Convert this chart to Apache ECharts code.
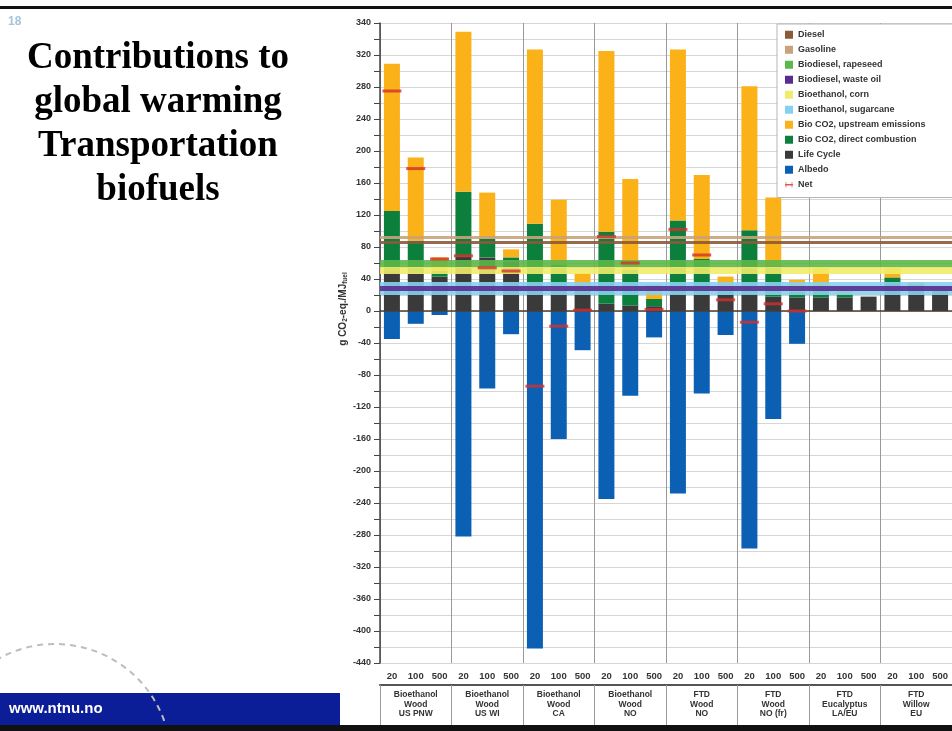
<!DOCTYPE html>
<html>
<head>
<meta charset="utf-8">
<script src="https://cdn.jsdelivr.net/npm/echarts@6/dist/echarts.min.js"></script>
<style>
  html, body { margin: 0; padding: 0; background: #fff; }
  #chart { width: 952px; height: 731px; }
</style>
</head>
<body>
<div id="chart"></div>
<script>
// feedstock / region groups and time horizons (years)
const groups = ['Bioethanol\nWood\nUS PNW', 'Bioethanol\nWood\nUS WI', 'Bioethanol\nWood\nCA', 'Bioethanol\nWood\nNO',
  'FTD\nWood\nNO', 'FTD\nWood\nNO (fr)', 'FTD\nEucalyptus\nLA/EU', 'FTD\nWillow\nEU'];
const horizons = ['20', '100', '500'];

// stacked contributions, g CO2-eq./MJ fuel (3 horizons per group)
const lifeCycle = [51, 47, 43, 68, 67, 62, 28, 28, 25, 9, 7, 6, 22, 20, 20, 22, 18, 17, 17, 17, 18, 34, 30, 25];
const directComb = [74, 41, 7, 81, 23, 5, 81, 30, 5, 90, 45, 9, 91, 45, 5, 79, 38, 7, 13, 4, 0, 8, 3, 0];
const upstream = [184, 104, 17, 200, 58, 10, 218, 81, 17, 226, 113, 18, 214, 105, 18, 180, 86, 15, 24, 4, 0, 13, 3, 0];
const albedo = [-35, -16, -5, -282, -97, -29, -422, -160, -49, -235, -106, -33, -228, -103, -30, -297, -135, -41,
  null, null, null, null, null, null];
const net = [275, 178, 65, 69, 54, 50, -94, -19, 1, 93, 60, 2, 102, 70, 14, -14, 9, 0,
  null, null, null, null, null, null];

// fossil / 1st generation reference levels
const refNames = ['Diesel', 'Gasoline', 'Biodiesel, rapeseed', 'Biodiesel, waste oil', 'Bioethanol, corn', 'Bioethanol, sugarcane'];
const refValues = [86, 92, 59.5, 28, 51, 28.5];

// y axis tick labels (as printed on the figure)
const yTickLabels = ['-440', '-400', '-360', '-320', '-280', '-240', '-200', '-160', '-120', '-80', '-40', '0',
  '40', '80', '120', '160', '200', '240', '280', '320', '340'];

const yMin = -440, yMax = 360;
const categories = [];
groups.forEach((g, gi) => horizons.forEach(h => categories.push(gi + '-' + h)));

const refColors = ['#8a5a3a', '#c9a27c', '#5cb84a', '#5b2c90', '#f2ec6c', '#86d1ee'];
const refWidths = [3, 3, 8, 5, 7, 13];

// draw order: wide bands first, thin on top
const refOrder = [5, 2, 4, 3, 1, 0];
const refSeries = refOrder.map(i => ({
  name: refNames[i],
  type: 'line',
  data: [],
  color: refColors[i],
  z: 3,
  markLine: {
    silent: true,
    symbol: 'none',
    label: { show: false },
    lineStyle: { color: refColors[i], width: refWidths[i], type: 'solid', opacity: 0.9 },
    data: [{ yAxis: refValues[i] }]
  }
}));

const chart = echarts.init(document.getElementById('chart'));
const font = 'Liberation Sans, Arial, sans-serif';

const option = {
  animation: false,
  textStyle: { fontFamily: font },
  grid: { left: 380, top: 23, width: 576, height: 640 },
  legend: {
    orient: 'vertical',
    left: 777,
    top: 24,
    padding: [6, 200, 8, 8],
    backgroundColor: '#fff',
    borderColor: '#b5b5b5',
    borderWidth: 1,
    itemWidth: 8,
    itemHeight: 8,
    itemGap: 5.5,
    textStyle: { fontSize: 9, fontWeight: 'bold', color: '#333', lineHeight: 9.5, fontFamily: font },
    data: [
      { name: 'Diesel', icon: 'rect' },
      { name: 'Gasoline', icon: 'rect' },
      { name: 'Biodiesel, rapeseed', icon: 'rect' },
      { name: 'Biodiesel, waste oil', icon: 'rect' },
      { name: 'Bioethanol, corn', icon: 'rect' },
      { name: 'Bioethanol, sugarcane', icon: 'rect' },
      { name: 'Bio CO2, upstream emissions', icon: 'rect' },
      { name: 'Bio CO2, direct combustion', icon: 'rect' },
      { name: 'Life Cycle', icon: 'rect' },
      { name: 'Albedo', icon: 'rect' },
      { name: 'Net', icon: 'path://M0,3H1V0H2V3H10V0H11V3H12V5H11V8H10V5H2V8H1V5H0Z' }
    ]
  },
  xAxis: [
    {
      type: 'category',
      data: categories,
      position: 'bottom',
      axisLine: { show: false },
      axisTick: {
        show: true,
        interval: (i) => i % 3 === 0 && i > 0,
        length: 22,
        lineStyle: { color: '#999' }
      },
      axisLabel: {
        interval: 0,
        margin: 8,
        fontSize: 9.5,
        fontWeight: 'bold',
        color: '#333',
        formatter: (v, i) => horizons[i % 3]
      },
      splitLine: { show: false }
    },
    {
      type: 'category',
      data: groups,
      position: 'bottom',
      offset: 22,
      axisLine: { show: true, lineStyle: { color: '#555', width: 2 } },
      axisTick: { show: true, length: 42, lineStyle: { color: '#999' } },
      axisLabel: {
        interval: 0,
        margin: 5,
        fontSize: 8.5,
        lineHeight: 9.5,
        fontWeight: 'bold',
        color: '#333'
      },
      splitLine: { show: true, lineStyle: { color: '#999', width: 1 } }
    }
  ],
  yAxis: {
    type: 'value',
    min: yMin,
    max: yMax,
    interval: 40,
    axisLine: { show: true, lineStyle: { color: '#444', width: 1.5 } },
    axisTick: { show: true, length: 6, lineStyle: { color: '#444' } },
    minorTick: { show: true, splitNumber: 2, length: 6, lineStyle: { color: '#444' } },
    axisLabel: {
      margin: 9,
      fontSize: 9,
      fontWeight: 'bold',
      color: '#333',
      formatter: (v) => yTickLabels[Math.round((v - yMin) / 40)]
    },
    splitLine: { show: true, lineStyle: { color: '#d6d6d6' } },
    minorSplitLine: { show: true, lineStyle: { color: '#d6d6d6' } }
  },
  series: [
    {
      name: 'Life Cycle', type: 'bar', stack: 'total', barWidth: 16,
      itemStyle: { color: '#3a3a3a' }, data: lifeCycle,
      markLine: {
        silent: true, symbol: 'none', label: { show: false }, z: 4,
        lineStyle: { color: '#4a3c34', width: 1.5, type: 'solid' },
        data: [{ yAxis: 0 }]
      }
    },
    { name: 'Bio CO2, direct combustion', type: 'bar', stack: 'total', itemStyle: { color: '#0c7f3c' }, data: directComb },
    { name: 'Bio CO2, upstream emissions', type: 'bar', stack: 'total', itemStyle: { color: '#fbb118' }, data: upstream },
    { name: 'Albedo', type: 'bar', stack: 'total', itemStyle: { color: '#0b60b4' }, data: albedo },
    ...refSeries,
    {
      name: 'Net', type: 'scatter', symbol: 'rect', symbolSize: [19, 3], z: 6,
      itemStyle: { color: '#d5302c' }, data: net
    }
  ],
  graphic: [
    { type: 'rect', left: 0, top: 6, shape: { width: 952, height: 3 }, style: { fill: '#111' }, z: 10 },
    { type: 'text', left: 8, top: 16, style: { text: '18', font: 'bold 12px ' + font, fill: '#a6c4da' } },
    {
      type: 'text', x: 158, y: 36,
      style: {
        text: 'Contributions to\nglobal warming\nTransportation\nbiofuels',
        font: 'bold 37px "Liberation Serif", "Times New Roman", serif',
        lineHeight: 44, fill: '#000', align: 'center', verticalAlign: 'top'
      }
    },
    {
      type: 'text', x: 343, y: 309, rotation: Math.PI / 2,
      style: {
        rich: {
          n: { font: 'bold 10px ' + font, fill: '#333' },
          s: { font: 'bold 6.5px ' + font, fill: '#333', padding: [5, 0, 0, 0] }
        },
        text: '{n|g CO}{s|2}{n|-eq./MJ}{s|fuel}',
        align: 'center', verticalAlign: 'middle'
      }
    },
    { type: 'rect', left: 0, top: 693, shape: { width: 340, height: 32 }, style: { fill: '#0b1d97' }, z: 5 },
    { type: 'text', left: 9, top: 701, style: { text: 'www.ntnu.no', font: 'bold 15px ' + font, fill: '#fff' }, z: 6 },
    { type: 'rect', left: 0, top: 725, shape: { width: 952, height: 6 }, style: { fill: '#111' }, z: 10 },
    {
      type: 'arc', z: 7,
      shape: { cx: 55, cy: 760, r: 116, startAngle: -2.2, endAngle: -0.3 },
      style: { stroke: '#bdbdbd', lineWidth: 2, lineDash: [6, 5], fill: null }
    }
  ]
};

chart.setOption(option);
</script>
</body>
</html>
